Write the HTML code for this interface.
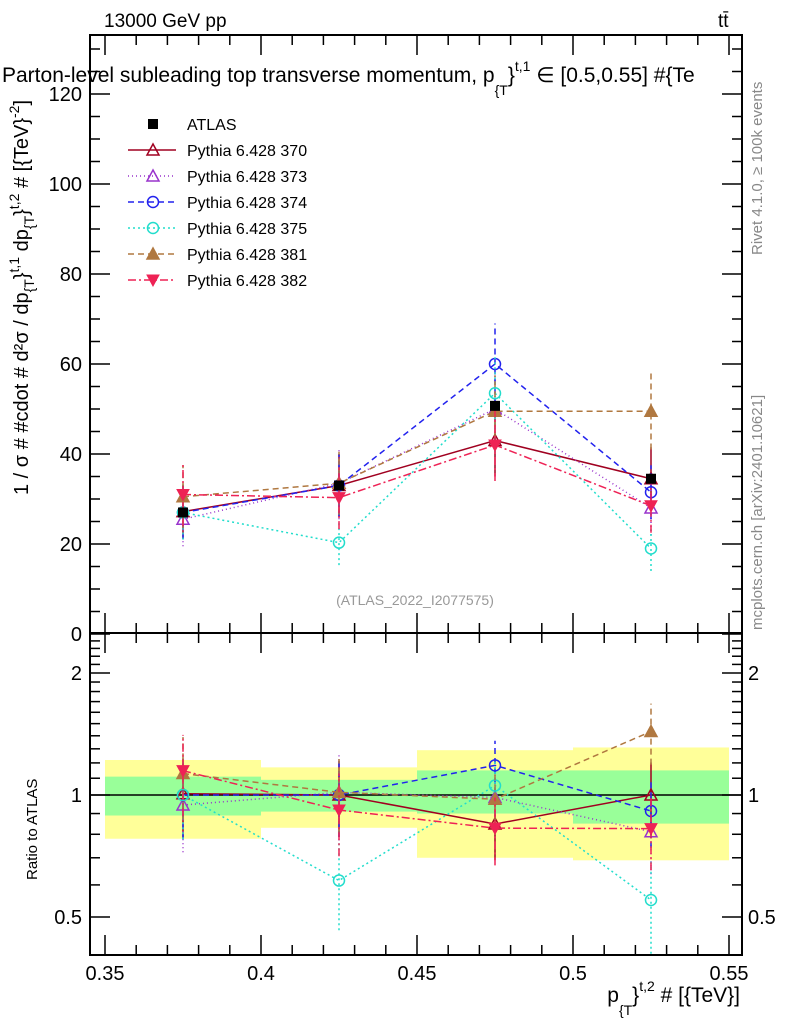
<!DOCTYPE html>
<html><head><meta charset="utf-8"><style>
body{margin:0;background:#fff}
svg{font-family:"Liberation Sans",sans-serif}
</style></head><body>
<svg id="c" width="786" height="1024" xmlns="http://www.w3.org/2000/svg">
<text x="104" y="27" font-size="19">13000 GeV pp</text>
<text x="718" y="27" font-size="19">tt̄</text>
<text x="2" y="82" font-size="21">Parton-level subleading top transverse momentum, p<tspan dy="13" font-size="14">{T</tspan><tspan dy="-13">}</tspan><tspan dy="-11" font-size="14">t,1</tspan><tspan dy="11"> ∈ [0.5,0.55] #{Te</tspan></text>
<text transform="translate(762,255) rotate(-90)" font-size="15" fill="#888">Rivet 4.1.0, ≥ 100k events</text>
<text transform="translate(762,630) rotate(-90)" font-size="15" fill="#888">mcplots.cern.ch [arXiv:2401.10621]</text>
<text x="415" y="605" font-size="14" fill="#999" text-anchor="middle">(ATLAS_2022_I2077575)</text>
<text transform="translate(28,495) rotate(-90)" font-size="20">1 / σ # #cdot # d²σ / dp<tspan font-size="14" dy="6">{T</tspan><tspan dy="-6">}</tspan><tspan font-size="14" dy="-9">t,1</tspan><tspan dy="9"> dp</tspan><tspan font-size="14" dy="6">{T</tspan><tspan dy="-6">}</tspan><tspan font-size="14" dy="-9">t,2</tspan><tspan dy="9"> # [{TeV}</tspan><tspan font-size="14" dy="-9">-2</tspan><tspan dy="9">]</tspan></text>
<text transform="translate(37,880) rotate(-90)" font-size="15">Ratio to ATLAS</text>
<text x="740" y="1002" font-size="21" text-anchor="end">p<tspan font-size="14" dy="13">{T</tspan><tspan dy="-13">}</tspan><tspan font-size="14" dy="-11">t,2</tspan><tspan dy="11"> # [{TeV}]</tspan></text>
<g id="g"></g>
</svg>
<script>
const binLo=[0.35,0.4,0.45,0.5];
const binHi=[0.4,0.45,0.5,0.55];
const xCenters=[0.375,0.425,0.475,0.525];
const atlasVals=[27,33,50.7,34.5];
const bandYellowUp=[1.22,1.17,1.29,1.31];
const bandYellowDn=[0.78,0.83,0.70,0.69];
const bandGreenUp=[1.11,1.09,1.15,1.15];
const bandGreenDn=[0.89,0.91,0.90,0.85];
const s370=[27.2,33,43,34.5], e370=[6,7,8,7];
const s373=[25.5,33.5,50,28], e373=[6,8,8,6];
const s374=[27,33,60,31.5], e374=[6,7,9,6];
const s375=[27,20.3,53.5,19], e375=[6,5,8,5];
const s381=[30.5,33.5,49.5,49.5], e381=[7,7,8,8.5];
const s382=[31,30.3,42,28.5], e382=[7,7,8,6];
const yTicks=[0,20,40,60,80,100,120];
const rTicks=[0.5,1,2];
const xTicks=[0.35,0.4,0.45,0.5,0.55];

const L=90,R=742,T=35,M=633,B=955;
const X=v=>105+(v-0.35)/0.05*156;
const Y=v=>634-v*4.5;
const RY=v=>795-Math.log2(v)*122;
const g=document.getElementById('g');
const NS='http://www.w3.org/2000/svg';
function el(t,a,p){const e=document.createElementNS(NS,t);for(const k in a)e.setAttribute(k,a[k]);(p||g).appendChild(e);return e;}

for(let i=0;i<4;i++){
 let r=el('rect',{x:X(binLo[i]),y:RY(bandYellowUp[i]),width:X(binHi[i])-X(binLo[i]),height:RY(bandYellowDn[i])-RY(bandYellowUp[i]),fill:'#ffff99'});
 
 
 r=el('rect',{x:X(binLo[i]),y:RY(bandGreenUp[i]),width:X(binHi[i])-X(binLo[i]),height:RY(bandGreenDn[i])-RY(bandGreenUp[i]),fill:'#99ff99'});
 
 
}
let ln=el('line',{x1:L,x2:R,y1:RY(1),y2:RY(1),stroke:'#000','stroke-width':1.5});



let f=el('rect',{x:L,y:T,width:R-L,height:M-T,fill:'none',stroke:'#000','stroke-width':2});


f=el('rect',{x:L,y:M,width:R-L,height:B-M,fill:'none',stroke:'#000','stroke-width':2});



for(let v=0.35;v<=0.5501;v+=0.01){
 const major=Math.abs(v/0.05-Math.round(v/0.05))<1e-6, len=major?20:10, x=X(v);
 for(const [y0,d] of [[M,-1],[T,1],[B,-1],[M,1]]) el('line',{x1:x,x2:x,y1:y0,y2:y0+d*len,stroke:'#000','stroke-width':1.5});
}
xTicks.forEach(v=>{const t=el('text',{x:X(v),y:980,'font-size':20,'text-anchor':'middle'});t.textContent=String(v);

});
for(let v=0;v<=130;v+=5){const y=Y(v);if(y<T)continue;const len=v%20==0?20:10;
 el('line',{x1:L,x2:L+len,y1:y,y2:y,stroke:'#000','stroke-width':1.5});el('line',{x1:R,x2:R-len,y1:y,y2:y,stroke:'#000','stroke-width':1.5});}
yTicks.forEach(v=>{const t=el('text',{x:82,y:Y(v)+7,'font-size':20,'text-anchor':'end'});t.textContent=v;

});
[0.4,0.5,0.6,0.7,0.8,0.9,1,1.1,1.2,1.3,1.4,1.5,1.6,1.7,1.8,1.9,2,2.1,2.2,2.3,2.4,2.5].forEach(v=>{const y=RY(v);if(y<M||y>B)return;const len=rTicks.includes(v)?20:10;
 el('line',{x1:L,x2:L+len,y1:y,y2:y,stroke:'#000','stroke-width':1.5});el('line',{x1:R,x2:R-len,y1:y,y2:y,stroke:'#000','stroke-width':1.5});});
rTicks.forEach(v=>{for(const [x,a] of [[82,'end'],[748,'start']]){const t=el('text',{x:x,y:RY(v)+7,'font-size':20,'text-anchor':a});t.textContent=v;

}});

function marker(type,x,y,c,name){
 let m;
 if(type=='tri'||type=='trif') m=el('polygon',{points:`${x},${y-6} ${x-6},${y+5} ${x+6},${y+5}`,fill:type=='trif'?c:'none',stroke:c,'stroke-width':1.5});
 else if(type=='tridf') m=el('polygon',{points:`${x},${y+6} ${x-6},${y-5} ${x+6},${y-5}`,fill:c,stroke:c});
 else if(type=='circ') m=el('circle',{cx:x,cy:y,r:5.5,fill:'none',stroke:c,'stroke-width':1.5});
 else m=el('rect',{x:x-5,y:y-5,width:10,height:10,fill:c});
 
 
}
const series=[
 {n:'370',v:s370,e:e370,c:'#a00020',d:'',m:'tri'},
 {n:'373',v:s373,e:e373,c:'#9933cc',d:'1,3',m:'tri'},
 {n:'374',v:s374,e:e374,c:'#2222ee',d:'6,4',m:'circ'},
 {n:'375',v:s375,e:e375,c:'#22ddcc',d:'2,3',m:'circ'},
 {n:'381',v:s381,e:e381,c:'#b07840',d:'6,4',m:'trif'},
 {n:'382',v:s382,e:e382,c:'#ee2255',d:'8,3,2,3',m:'tridf'}];
series.forEach(s=>{
 for(const ratio of [false,true]){
  const yf=ratio?(i,v)=>RY(v/atlasVals[i]):(i,v)=>Y(v);
  const pts=xCenters.map((x,i)=>X(x)+','+yf(i,s.v[i])).join(' ');
  const p=el('polyline',{points:pts,fill:'none',stroke:s.c,'stroke-width':1.5,'stroke-dasharray':s.d});
  
  
  xCenters.forEach((x,i)=>{
   const eb=el('line',{x1:X(x),x2:X(x),y1:yf(i,s.v[i]-s.e[i]),y2:yf(i,s.v[i]+s.e[i]),stroke:s.c,'stroke-width':1.5,'stroke-dasharray':s.d});
   
   
   marker(s.m,X(x),yf(i,s.v[i]),s.c,'point-'+s.n);
  });
 }
});
xCenters.forEach((x,i)=>marker('sq',X(x),Y(atlasVals[i]),'#000','atlas-point'));

const leg=[['ATLAS','#000','','sq'],...series.map(s=>['Pythia 6.428 '+s.n,s.c,s.d,s.m])];
leg.forEach((l,i)=>{const y=124+i*26;
 if(i>0){const q=el('line',{x1:128,x2:176,y1:y,y2:y,stroke:l[1],'stroke-width':1.5,'stroke-dasharray':l[2]});
 
 }
 marker(l[3],153,y,l[1],'legend-marker');
 const t=el('text',{x:187,y:y+6,'font-size':16});t.textContent=l[0];
 
 
});
</script>
</body></html>
